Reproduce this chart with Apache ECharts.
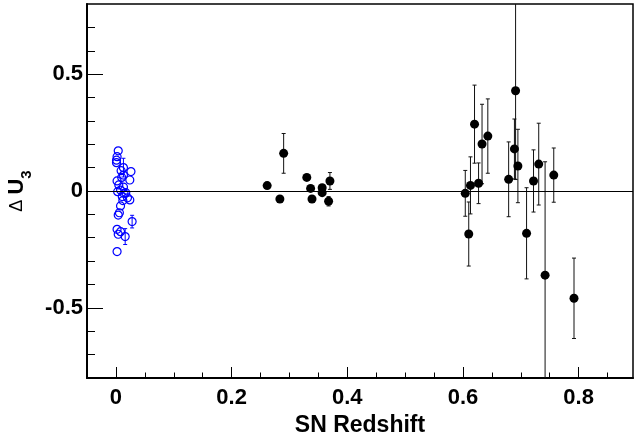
<!DOCTYPE html>
<html>
<head>
<meta charset="utf-8">
<script src="https://cdn.jsdelivr.net/npm/echarts@6/dist/echarts.min.js"></script>
<style>
  html, body { margin: 0; padding: 0; background: #fff; }
  #main { width: 635px; height: 437px; }
</style>
</head>
<body>
<div id="main"></div>
<script>
// low-z sample (blue open circles)
var blueZ   = [0.004, 0.002, 0.001, 0.001, 0.009, 0.026, 0.013, 0.024, 0.002, 0.005,
               0.013, 0.017, 0.003, 0.011, 0.020, 0.024, 0.012, 0.008, 0.006, 0.004,
               0.028, 0.002, 0.008, 0.004, 0.016, 0.002, 0.013, 0.008, 0.014, 0.010];
var blueDU  = [0.172, 0.147, 0.121, 0.132, 0.087, 0.083, 0.068, 0.047, 0.043, 0.026,
               0.017, -0.007, -0.003, -0.024, -0.029, -0.038, -0.041, -0.064, -0.093, -0.103,
               -0.131, -0.164, -0.174, -0.185, -0.195, -0.259, 0.100, 0.004, -0.010, 0.058];
var blueErr = [0, 0, 0, 0, 0, 0, 0, 0, 0, 0,
               0, 0, 0, 0, 0, 0, 0, 0, 0, 0,
               0.027, 0, 0, 0, 0.034, 0, 0.040, 0, 0, 0];

// high-z sample (black filled circles)
var blackZ   = [0.2615, 0.2835, 0.290, 0.330, 0.3366, 0.339, 0.3566, 0.3566, 0.370, 0.3677,
                0.604, 0.610, 0.613, 0.620, 0.627, 0.633, 0.643, 0.679, 0.689, 0.691,
                0.695, 0.710, 0.722, 0.731, 0.742, 0.757, 0.792];
var blackDU  = [0.023, -0.034, 0.161, 0.058, 0.011, -0.034, 0.014, -0.007, 0.043, -0.044,
                -0.010, -0.184, 0.024, 0.286, 0.033, 0.201, 0.235, 0.050, 0.180, 0.429,
                0.107, -0.181, 0.043, 0.115, -0.360, 0.068, -0.459];
var blackErr = [0, 0, 0.085, 0, 0, 0, 0, 0, 0.036, 0.020,
                0.098, 0.137, 0.122, 0.167, 0.087, 0.170, 0.159, 0.160, 0.128, 0.380,
                0.157, 0.195, 0.133, 0.175, 0.485, 0.116, 0.172];

var xMajorTicks = [0, 0.2, 0.4, 0.6, 0.8];
var xMinorTicks = [0.05, 0.1, 0.15, 0.25, 0.3, 0.35, 0.45, 0.5, 0.55, 0.65, 0.7, 0.75, 0.85];
var yMajorTicks = [-0.5, 0, 0.5];
var yMinorTicks = [-0.7, -0.6, -0.4, -0.3, -0.2, -0.1, 0.1, 0.2, 0.3, 0.4, 0.6, 0.7];

var xMin = -0.05, xMax = 0.894;
var yMin = -0.8, yMax = 0.8;
var font = '"Liberation Sans", Arial, Helvetica, sans-serif';

var chart = echarts.init(document.getElementById('main'), null, { renderer: 'canvas' });

function pack(xs, ys, es) {
  return xs.map(function (x, i) { return [x, ys[i], es[i]]; });
}

// vertical error bar with small caps, clipped to the frame
function errorBars(color) {
  return function (params, api) {
    var x = api.value(0), y = api.value(1), e = api.value(2);
    if (!e) return;
    var hi = Math.min(y + e, yMax), lo = Math.max(y - e, yMin);
    var top = api.coord([x, hi]);
    var bot = api.coord([x, lo]);
    var style = { stroke: color, lineWidth: 1 };
    var children = [{ type: 'line', shape: { x1: top[0], y1: top[1], x2: bot[0], y2: bot[1] }, style: style }];
    if (y + e <= yMax) {
      children.push({ type: 'line', shape: { x1: top[0] - 2, y1: top[1], x2: top[0] + 2, y2: top[1] }, style: style });
    }
    if (y - e >= yMin) {
      children.push({ type: 'line', shape: { x1: bot[0] - 2, y1: bot[1], x2: bot[0] + 2, y2: bot[1] }, style: style });
    }
    return { type: 'group', children: children };
  };
}

var option = {
  animation: false,
  grid: {
    left: 87, right: 2, top: 4, bottom: 59,
    outerBoundsMode: 'none', containLabel: false,
    show: true, borderColor: '#000', borderWidth: 1.5, backgroundColor: 'transparent'
  },
  xAxis: [
    {
      type: 'value', min: xMin, max: xMax, position: 'bottom',
      name: 'SN Redshift', nameLocation: 'middle', nameGap: 19,
      nameTextStyle: { fontFamily: font, fontWeight: 'bold', fontSize: 23, color: '#000' },
      axisLine: { show: true, onZero: false, lineStyle: { color: '#000', width: 2 } },
      axisTick: { show: true, inside: true, length: 11, customValues: xMajorTicks, lineStyle: { color: '#000', width: 1 } },
      axisLabel: { customValues: xMajorTicks, margin: 9, fontFamily: font, fontWeight: 'bold', fontSize: 22, color: '#000' },
      splitLine: { show: false }
    },
    {
      type: 'value', min: xMin, max: xMax, position: 'bottom',
      axisLine: { show: false, onZero: false },
      axisTick: { show: true, inside: true, length: 5.5, customValues: xMinorTicks, lineStyle: { color: '#000', width: 1 } },
      axisLabel: { show: false },
      splitLine: { show: false }
    }
  ],
  yAxis: [
    {
      type: 'value', min: yMin, max: yMax, position: 'left',
      name: '{d|Δ }{u|U}{s|3}', nameLocation: 'middle', nameGap: 52, nameRotate: 90,
      nameTextStyle: {
        color: '#000',
        rich: {
          d: { fontFamily: font, fontSize: 18, fontWeight: 'normal', color: '#000', lineHeight: 34, verticalAlign: 'middle' },
          u: { fontFamily: font, fontSize: 22, fontWeight: 'bold', color: '#000', lineHeight: 34, verticalAlign: 'middle' },
          s: { fontFamily: font, fontSize: 15, fontWeight: 'bold', color: '#000', lineHeight: 34, verticalAlign: 'bottom' }
        }
      },
      axisLine: { show: true, onZero: false, lineStyle: { color: '#000', width: 2 } },
      axisTick: { show: true, inside: true, length: 16, customValues: yMajorTicks, lineStyle: { color: '#000', width: 1 } },
      axisLabel: { customValues: yMajorTicks, margin: 4, fontFamily: font, fontWeight: 'bold', fontSize: 22, color: '#000' },
      splitLine: { show: false }
    },
    {
      type: 'value', min: yMin, max: yMax, position: 'left',
      axisLine: { show: false, onZero: false },
      axisTick: { show: true, inside: true, length: 8, customValues: yMinorTicks, lineStyle: { color: '#000', width: 1 } },
      axisLabel: { show: false },
      splitLine: { show: false }
    }
  ],
  series: [
    {
      type: 'custom', name: 'blueErr', renderItem: errorBars('#0000ff'),
      data: pack(blueZ, blueDU, blueErr), encode: { x: 0, y: 1 }, z: 2, silent: true
    },
    {
      type: 'custom', name: 'blackErr', renderItem: errorBars('#111'),
      data: pack(blackZ, blackDU, blackErr), encode: { x: 0, y: 1 }, z: 2, silent: true
    },
    {
      type: 'scatter', name: 'low z', symbol: 'circle', symbolSize: 8,
      data: pack(blueZ, blueDU, blueErr), z: 3,
      itemStyle: { color: 'transparent', borderColor: '#0000ff', borderWidth: 1.2, opacity: 1 }
    },
    {
      type: 'scatter', name: 'high z', symbol: 'circle', symbolSize: 9,
      data: pack(blackZ, blackDU, blackErr), z: 3,
      itemStyle: { color: '#000', opacity: 1 },
      markLine: {
        silent: true, symbol: 'none', label: { show: false },
        lineStyle: { color: '#000', width: 1, type: 'solid' },
        data: [{ yAxis: 0 }]
      }
    }
  ]
};

chart.setOption(option);
</script>
</body>
</html>
